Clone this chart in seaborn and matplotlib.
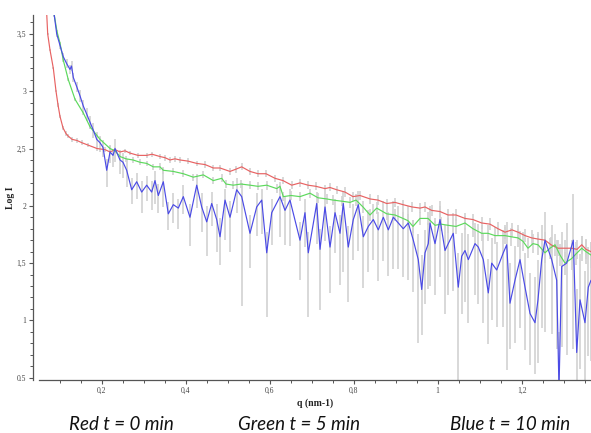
import matplotlib
matplotlib.use("Agg")
import matplotlib.pyplot as plt
import numpy as np
import pandas as pd
import seaborn as sns
from matplotlib.ticker import FixedLocator, MultipleLocator

# Scattering curves: q (nm-1) against log intensity, three time points
red_q = [
    0.0690, 0.0714, 0.0769, 0.0848, 0.0912, 0.0960, 0.1007, 0.1079, 0.1150, 0.1198,
    0.1293, 0.1412, 0.1531, 0.1674, 0.1888, 0.2079, 0.2198, 0.2317, 0.2436, 0.2555,
    0.2674, 0.2864, 0.3071, 0.3198, 0.3388, 0.3507, 0.3626, 0.3745, 0.3864, 0.4055,
    0.4262, 0.4460, 0.4657, 0.4817, 0.5055, 0.5198, 0.5333, 0.5531, 0.5721, 0.5912,
    0.6126, 0.6317, 0.6524, 0.6721, 0.6912, 0.7102, 0.7317, 0.7436, 0.7595, 0.7793,
    0.7983, 0.8150, 0.8388, 0.8579, 0.8786, 0.8983, 0.9174, 0.9388, 0.9579, 0.9698,
    0.9857, 1.0055, 1.0245, 1.0436, 1.0650, 1.0840, 1.1048, 1.1245, 1.1436, 1.1602,
    1.1769, 1.1912, 1.2079, 1.2238, 1.2388, 1.2555, 1.2698, 1.2864, 1.3031, 1.3190,
    1.3317, 1.3429, 1.3531, 1.3650,
]
red_logI = [
    3.68, 3.50, 3.36, 3.20, 3.00, 2.88, 2.78, 2.68, 2.63, 2.61,
    2.58, 2.57, 2.55, 2.53, 2.50, 2.49, 2.47, 2.49, 2.47, 2.48,
    2.46, 2.44, 2.44, 2.45, 2.43, 2.42, 2.40, 2.41, 2.40, 2.39,
    2.37, 2.36, 2.33, 2.33, 2.30, 2.32, 2.34, 2.30, 2.28, 2.28,
    2.24, 2.22, 2.18, 2.20, 2.18, 2.17, 2.15, 2.16, 2.14, 2.12,
    2.08, 2.09, 2.06, 2.05, 2.02, 2.03, 2.01, 1.99, 1.98, 1.99,
    1.96, 1.95, 1.92, 1.92, 1.89, 1.88, 1.85, 1.84, 1.80, 1.77,
    1.79, 1.77, 1.74, 1.72, 1.71, 1.70, 1.66, 1.63, 1.63, 1.63,
    1.62, 1.66, 1.62, 1.60,
]
red_err = [
    0.01, 0.01, 0.01, 0.01, 0.01, 0.015, 0.015, 0.015, 0.02, 0.02,
    0.02, 0.02, 0.02, 0.02, 0.02, 0.02, 0.02, 0.02, 0.02, 0.02,
    0.02, 0.02, 0.02, 0.02, 0.025, 0.025, 0.025, 0.025, 0.025, 0.025,
    0.025, 0.03, 0.03, 0.03, 0.03, 0.03, 0.03, 0.03, 0.03, 0.03,
    0.03, 0.03, 0.035, 0.035, 0.035, 0.035, 0.035, 0.035, 0.035, 0.04,
    0.04, 0.04, 0.04, 0.04, 0.04, 0.04, 0.045, 0.045, 0.045, 0.045,
    0.05, 0.05, 0.05, 0.05, 0.05, 0.05, 0.055, 0.055, 0.055, 0.06,
    0.06, 0.06, 0.06, 0.065, 0.065, 0.07, 0.07, 0.07, 0.075, 0.075,
    0.08, 0.08, 0.08, 0.08,
]

green_q = [
    0.0864, 0.0936, 0.1007, 0.1086, 0.1205, 0.1364, 0.1562, 0.1721, 0.1960, 0.2198,
    0.2317, 0.2436, 0.2579, 0.2745, 0.2912, 0.3071, 0.3229, 0.3388, 0.3467, 0.3705,
    0.3943, 0.4181, 0.4419, 0.4657, 0.4857, 0.4960, 0.5133, 0.5317, 0.5531, 0.5721,
    0.5929, 0.6167, 0.6245, 0.6324, 0.6507, 0.6721, 0.6960, 0.7150, 0.7357, 0.7507,
    0.7721, 0.7912, 0.8055, 0.8221, 0.8388, 0.8548, 0.8786, 0.8983, 0.9174, 0.9293,
    0.9412, 0.9579, 0.9769, 0.9936, 1.0079, 1.0245, 1.0436, 1.0650, 1.0840, 1.1048,
    1.1198, 1.1364, 1.1602, 1.1745, 1.1912, 1.2031, 1.2150, 1.2269, 1.2388, 1.2555,
    1.2674, 1.2793, 1.2912, 1.3031, 1.3190, 1.3293, 1.3429, 1.3531, 1.3650,
]
green_logI = [
    3.68, 3.52, 3.42, 3.27, 3.10, 2.93, 2.81, 2.69, 2.58, 2.50,
    2.48, 2.43, 2.41, 2.40, 2.38, 2.37, 2.34, 2.34, 2.31, 2.30,
    2.28, 2.25, 2.27, 2.22, 2.24, 2.19, 2.18, 2.19, 2.18, 2.17,
    2.18, 2.15, 2.17, 2.08, 2.09, 2.08, 2.11, 2.07, 2.06, 2.05,
    2.04, 2.03, 2.05, 1.99, 1.92, 1.98, 1.93, 1.92, 1.89, 1.87,
    1.82, 1.89, 1.89, 1.83, 1.84, 1.83, 1.82, 1.85, 1.80, 1.76,
    1.76, 1.74, 1.74, 1.73, 1.72, 1.69, 1.63, 1.67, 1.66, 1.59,
    1.63, 1.66, 1.57, 1.50, 1.54, 1.58, 1.63, 1.60, 1.57,
]
green_err = [
    0.01, 0.01, 0.01, 0.015, 0.015, 0.015, 0.02, 0.02, 0.02, 0.02,
    0.02, 0.025, 0.025, 0.025, 0.025, 0.025, 0.025, 0.03, 0.03, 0.03,
    0.03, 0.03, 0.03, 0.03, 0.035, 0.035, 0.035, 0.035, 0.035, 0.035,
    0.04, 0.04, 0.04, 0.04, 0.04, 0.04, 0.04, 0.045, 0.045, 0.045,
    0.045, 0.045, 0.05, 0.05, 0.05, 0.05, 0.05, 0.055, 0.055, 0.055,
    0.055, 0.06, 0.06, 0.06, 0.06, 0.065, 0.065, 0.065, 0.07, 0.07,
    0.07, 0.075, 0.075, 0.08, 0.08, 0.08, 0.085, 0.085, 0.09, 0.09,
    0.09, 0.095, 0.095, 0.10, 0.10, 0.10, 0.11, 0.11, 0.11,
]

blue_q = [
    0.0864, 0.0929, 0.1007, 0.1086, 0.1167, 0.1245, 0.1281, 0.1324, 0.1405, 0.1483,
    0.1562, 0.1643, 0.1721, 0.1800, 0.1881, 0.1960, 0.2031, 0.2119, 0.2198, 0.2269,
    0.2317, 0.2436, 0.2507, 0.2595, 0.2714, 0.2833, 0.2952, 0.3071, 0.3190, 0.3269,
    0.3348, 0.3467, 0.3586, 0.3705, 0.3824, 0.3943, 0.4102, 0.4262, 0.4381, 0.4500,
    0.4619, 0.4738, 0.4817, 0.4936, 0.5055, 0.5214, 0.5333, 0.5531, 0.5690, 0.5810,
    0.5929, 0.6048, 0.6245, 0.6364, 0.6483, 0.6721, 0.6840, 0.6919, 0.7119, 0.7198,
    0.7317, 0.7436, 0.7555, 0.7674, 0.7752, 0.7871, 0.7990, 0.8110, 0.8229, 0.8348,
    0.8467, 0.8586, 0.8705, 0.8824, 0.8943, 0.9062, 0.9181, 0.9300, 0.9419, 0.9538,
    0.9619, 0.9698, 0.9776, 0.9817, 0.9936, 1.0055, 1.0174, 1.0252, 1.0371, 1.0490,
    1.0571, 1.0650, 1.0729, 1.0888, 1.0967, 1.1086, 1.1205, 1.1286, 1.1405, 1.1562,
    1.1643, 1.1721, 1.1840, 1.1960, 1.2079, 1.2198, 1.2317, 1.2388, 1.2476, 1.2555,
    1.2714, 1.2833, 1.2888, 1.2952, 1.3071, 1.3229, 1.3310, 1.3388, 1.3507, 1.3586,
    1.3650,
]
blue_logI = [
    3.68, 3.50, 3.40, 3.30, 3.24, 3.19, 3.22, 3.12, 3.04, 2.96,
    2.87, 2.80, 2.73, 2.66, 2.58, 2.55, 2.51, 2.31, 2.47, 2.44,
    2.50, 2.40, 2.38, 2.31, 2.14, 2.21, 2.12, 2.18, 2.12, 2.22,
    2.09, 2.21, 1.93, 2.01, 1.98, 2.08, 1.90, 2.18, 1.99, 1.86,
    2.02, 1.88, 1.73, 2.05, 1.90, 2.14, 2.08, 1.76, 1.99, 2.05,
    1.59, 1.94, 2.08, 1.96, 2.05, 1.70, 1.94, 1.59, 2.02, 1.62,
    1.99, 1.64, 1.94, 1.76, 2.02, 1.64, 1.88, 2.01, 1.73, 1.82,
    1.88, 1.79, 1.90, 1.79, 1.90, 1.85, 1.80, 1.85, 1.70, 1.53,
    1.27, 1.59, 1.67, 1.85, 1.67, 1.88, 1.61, 1.67, 1.76, 1.29,
    1.56, 1.61, 1.53, 1.67, 1.64, 1.53, 1.24, 1.50, 1.44, 1.59,
    1.66, 1.15, 1.35, 1.53, 1.29, 1.06, 0.98, 1.18, 1.53, 1.70,
    1.53, 1.35, 0.40, 1.47, 1.50, 1.70, 0.72, 1.18, 0.98, 1.29,
    1.35,
]
blue_err_lo = [
    0.03, 0.03, 0.03, 0.03, 0.04, 0.04, 0.04, 0.04, 0.05, 0.05,
    0.05, 0.06, 0.06, 0.07, 0.07, 0.08, 0.08, 0.15, 0.10, 0.10,
    0.12, 0.12, 0.14, 0.15, 0.12, 0.15, 0.18, 0.14, 0.16, 0.20,
    0.15, 0.22, 0.14, 0.16, 0.18, 0.15, 0.25, 0.20, 0.22, 0.30,
    0.20, 0.28, 0.25, 0.35, 0.30, 0.20, 0.95, 0.30, 0.25, 0.30,
    0.56, 0.28, 0.35, 0.30, 0.40, 0.35, 0.30, 0.56, 0.35, 0.53,
    0.30, 0.40, 0.35, 0.45, 0.60, 0.48, 0.35, 0.40, 0.45, 0.40,
    0.35, 0.45, 0.38, 0.40, 0.45, 0.40, 0.42, 0.50, 0.45, 0.73,
    0.40, 0.45, 0.40, 0.55, 0.45, 0.50, 0.55, 0.45, 0.50, 0.81,
    0.50, 0.45, 0.55, 0.45, 0.50, 0.55, 0.45, 0.50, 0.50, 0.65,
    1.09, 0.40, 0.55, 0.60, 0.55, 0.45, 0.45, 0.55, 0.60, 0.80,
    0.65, 0.60, 0.10, 0.70, 0.80, 0.95, 0.30, 0.60, 0.50, 0.60,
    0.70,
]
blue_err_hi = [
    0.03, 0.03, 0.03, 0.03, 0.04, 0.04, 0.04, 0.04, 0.04, 0.05,
    0.05, 0.05, 0.05, 0.06, 0.06, 0.06, 0.06, 0.10, 0.06, 0.06,
    0.08, 0.08, 0.08, 0.10, 0.10, 0.08, 0.10, 0.08, 0.10, 0.08,
    0.10, 0.12, 0.10, 0.10, 0.08, 0.10, 0.12, 0.10, 0.12, 0.14,
    0.10, 0.14, 0.16, 0.10, 0.14, 0.10, 0.12, 0.16, 0.12, 0.10,
    0.18, 0.12, 0.10, 0.12, 0.10, 0.16, 0.12, 0.18, 0.10, 0.18,
    0.12, 0.18, 0.12, 0.16, 0.10, 0.18, 0.14, 0.12, 0.18, 0.14,
    0.14, 0.16, 0.14, 0.16, 0.14, 0.15, 0.16, 0.15, 0.18, 0.22,
    0.30, 0.20, 0.18, 0.15, 0.20, 0.16, 0.22, 0.20, 0.18, 0.30,
    0.20, 0.20, 0.22, 0.18, 0.20, 0.22, 0.30, 0.22, 0.24, 0.20,
    0.20, 0.35, 0.30, 0.25, 0.30, 0.35, 0.40, 0.35, 0.30, 0.25,
    0.30, 0.35, 0.50, 0.30, 0.35, 0.40, 0.55, 0.40, 0.45, 0.35,
    0.30,
]

x_ticks = [0.2, 0.4, 0.6, 0.8, 1.0, 1.2]
x_tick_labels = ["0,2", "0,4", "0,6", "0,8", "1", "1,2"]
y_ticks = [0.5, 1.0, 1.5, 2.0, 2.5, 3.0, 3.5]
y_tick_labels = ["0.5", "1", "1,5", "2", "2,5", "3", "3,5"]
captions = ["Red t = 0 min", "Green t = 5 min", "Blue t = 10 min"]

sns.set_style("ticks")
plt.rcParams["font.family"] = ["Liberation Serif", "DejaVu Serif"]

W, H = 591, 433
fig = plt.figure(figsize=(W / 100, H / 100), dpi=100)
ax = fig.add_axes([39 / W, 1 - 380 / H, 1 - 39 / W, (380 - 15) / H])

grey = "#d2d2d2"
series = [
    (red_q, red_logI, red_err, red_err, "#e86262"),
    (green_q, green_logI, green_err, green_err, "#5cd95c"),
    (blue_q, blue_logI, blue_err_lo, blue_err_hi, "#4b4be6"),
]

# uncertainty bars first, curves on top
for q, v, lo, hi, _ in series:
    v = np.asarray(v)
    ax.vlines(q, v - np.asarray(lo), v + np.asarray(hi), color=grey, lw=1.2, zorder=1)

for q, v, _, _, col in series:
    df = pd.DataFrame({"q": q, "logI": v})
    sns.lineplot(data=df, x="q", y="logI", ax=ax, color=col, lw=0.85,
                 estimator=None, sort=False, zorder=3)

ax.set_xlim(0.0507, 1.365)
ax.set_ylim(0.48, 3.665)

ax.xaxis.set_major_locator(FixedLocator(x_ticks))
ax.set_xticklabels(x_tick_labels)
ax.xaxis.set_minor_locator(MultipleLocator(0.05))
ax.yaxis.set_major_locator(FixedLocator(y_ticks))
ax.set_yticklabels(y_tick_labels)
ax.yaxis.set_minor_locator(MultipleLocator(0.1))

ax.tick_params(axis="both", which="major", length=3.2, width=0.8, color="#555555",
               labelsize=5.5, labelcolor="#444444", pad=2)
ax.tick_params(axis="both", which="minor", length=2.0, width=0.7, color="#555555")

sns.despine(ax=ax)
ax.spines["left"].set_position(("outward", 4))
for s in ("left", "bottom"):
    ax.spines[s].set_color("#555555")
    ax.spines[s].set_linewidth(0.9)

ax.set_xlabel("q (nm-1)", fontsize=7, fontweight="bold", color="#222222", labelpad=2)
ax.set_ylabel("Log I", fontsize=7, fontweight="bold", color="#222222", labelpad=1)

cap_x = [121, 299, 510]
for cx, text in zip(cap_x, captions):
    fig.text(cx / W, 1 - 424 / H, text, ha="center", va="center", fontsize=13.5,
             style="italic", family=["Lato", "DejaVu Sans"], color="#111111")

fig.savefig("out.png", dpi=100)
